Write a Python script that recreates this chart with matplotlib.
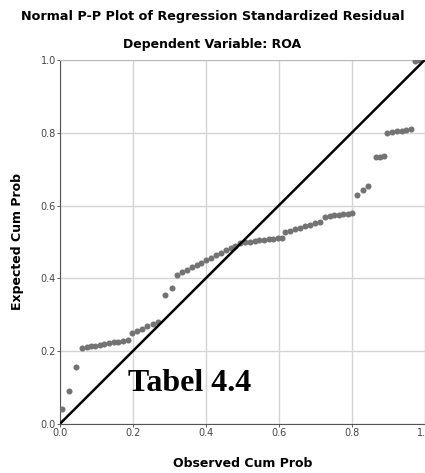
import numpy as np
import matplotlib.pyplot as plt

# observed cumulative probability vs expected cumulative probability
observed = [0.005, 0.025, 0.045,
            0.060, 0.073, 0.085, 0.097, 0.110, 0.122, 0.135, 0.148, 0.160, 0.173, 0.187,
            0.198, 0.212, 0.226, 0.240, 0.255, 0.269,
            0.288, 0.308,
            0.321, 0.334, 0.348, 0.361, 0.375, 0.388, 0.401, 0.415, 0.428, 0.441, 0.455, 0.468, 0.481, 0.495,
            0.508, 0.521, 0.534, 0.547, 0.560, 0.572, 0.585, 0.598, 0.610,
            0.618, 0.632, 0.646, 0.659, 0.673, 0.687, 0.700, 0.714,
            0.728, 0.740, 0.752, 0.765, 0.777, 0.790, 0.802,
            0.816, 0.832, 0.846,
            0.868, 0.879, 0.890,
            0.898, 0.911, 0.924, 0.937, 0.950, 0.962,
            0.973, 0.986]
expected = [0.040, 0.090, 0.157,
            0.209, 0.211, 0.213, 0.215, 0.217, 0.220, 0.222, 0.224, 0.226, 0.228, 0.231,
            0.250, 0.256, 0.262, 0.268, 0.274, 0.280,
            0.354, 0.374,
            0.409, 0.416, 0.423, 0.430, 0.436, 0.443, 0.450, 0.456, 0.463, 0.470, 0.477, 0.483, 0.490, 0.497,
            0.500, 0.501, 0.503, 0.504, 0.505, 0.507, 0.508, 0.510, 0.511,
            0.527, 0.531, 0.535, 0.539, 0.543, 0.547, 0.551, 0.555,
            0.569, 0.571, 0.573, 0.575, 0.576, 0.578, 0.580,
            0.629, 0.643, 0.654,
            0.733, 0.733, 0.736,
            0.800, 0.802, 0.804, 0.806, 0.808, 0.810,
            0.997, 1.000]
ticks = [0.0, 0.2, 0.4, 0.6, 0.8, 1.0]

fig = plt.figure(figsize=(4.25, 4.73), dpi=100)
ax = fig.add_axes([0.141, 0.104, 0.858, 0.769])

ax.scatter(observed, expected, s=19, color='#737373', zorder=3, linewidths=0)
ax.plot([0, 1], [0, 1], color='black', linewidth=1.8, zorder=4)

ax.set_xlim(0, 1)
ax.set_ylim(0, 1)
ax.set_xticks(ticks)
ax.set_yticks(ticks)
ax.set_xticklabels([f"{t:.1f}" for t in ticks])
ax.set_yticklabels([f"{t:.1f}" for t in ticks])
ax.tick_params(labelsize=7, colors='#444444', length=2, width=0.6, pad=1)
ax.grid(True, color='#d4d4d4', linewidth=1.0)
ax.set_axisbelow(True)
for s in ax.spines.values():
    s.set_color('#bbbbbb')
    s.set_linewidth(0.8)
ax.spines['left'].set_color('#555555')
ax.spines['bottom'].set_color('#555555')

ax.set_xlabel("Observed Cum Prob", fontsize=9, fontweight='bold', labelpad=14)
ax.set_ylabel("Expected Cum Prob", fontsize=9, fontweight='bold', labelpad=12)

fig.text(0.5, 0.966, "Normal P-P Plot of Regression Standardized Residual",
         ha='center', va='center', fontsize=9.2, fontweight='bold')
fig.text(0.5, 0.905, "Dependent Variable: ROA",
         ha='center', va='center', fontsize=9, fontweight='bold')

ax.text(0.187, 0.11, "Tabel 4.4", fontsize=23, fontweight='bold',
        family='Liberation Serif', ha='left', va='center', zorder=5)

fig.savefig("out.png", dpi=100)
